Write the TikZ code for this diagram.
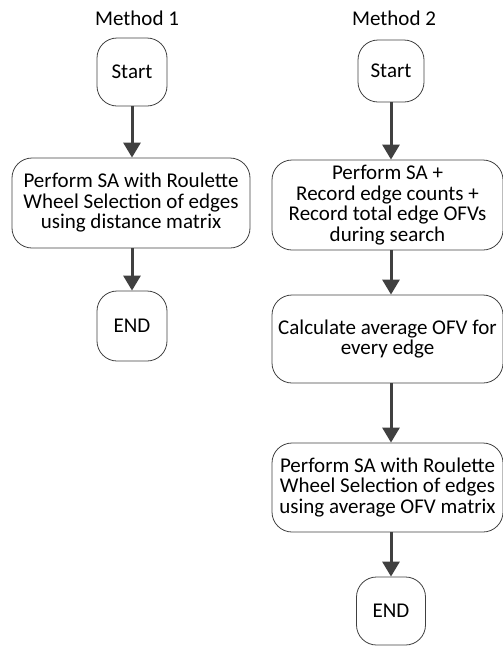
\documentclass[tikz,border=0pt]{standalone}
\usepackage{fontspec}
\setmainfont{Carlito}
\usetikzlibrary{arrows.meta}

\tikzset{
  flowbox/.style={draw=black!75, line width=0.8pt, rounded corners=20pt,
    align=center, inner sep=0pt, font=\fontsize{21}{20.5}\selectfont},
  flowarrow/.style={draw=black!75, line width=3pt,
    -{Triangle[length=15pt,width=17pt]}},
  methodlabel/.style={font=\fontsize{21}{22}\selectfont, inner sep=0pt}
}

\begin{document}
\begin{tikzpicture}[x=1pt,y=-1pt]
      \useasboundingbox (0,0) rectangle (503,646);
      % Method 1
      \node[methodlabel] (m1) at (137,18) {Method 1};
      \node[flowbox, minimum width=70pt, minimum height=68pt] (s1) at (132,72) {Start};
      \node[flowbox, minimum width=238pt, minimum height=90pt] (p1) at (131,203)
        {Perform SA with Roulette\\Wheel Selection of edges\\using distance matrix};
      \node[flowbox, minimum width=70pt, minimum height=70pt] (e1) at (132,326) {END};
      \draw[flowarrow] (s1.south) -- (s1.south |- p1.north);
      \draw[flowarrow] (s1.south |- p1.south) -- (e1.north);
      % Method 2
      \node[methodlabel] (m2) at (394,18) {Method 2};
      \node[flowbox, minimum width=66pt, minimum height=62pt] (s2) at (391,71) {Start};
      \node[flowbox, minimum width=231pt, minimum height=90pt] (p2) at (387.5,205)
        {Perform SA +\\Record edge counts +\\Record total edge OFVs\\during search};
      \node[flowbox, minimum width=231pt, minimum height=88pt] (c2) at (387.5,339)
        {Calculate average OFV for\\every edge};
      \node[flowbox, minimum width=231pt, minimum height=89pt] (r2) at (387.5,487.5)
        {Perform SA with Roulette\\Wheel Selection of edges\\using average OFV matrix};
      \node[flowbox, minimum width=69pt, minimum height=68pt] (e2) at (391,611) {END};
      \draw[flowarrow] (s2.south) -- (s2.south |- p2.north);
      \draw[flowarrow] (s2.south |- p2.south) -- (s2.south |- c2.north);
      \draw[flowarrow] (s2.south |- c2.south) -- (s2.south |- r2.north);
      \draw[flowarrow] (s2.south |- r2.south) -- (e2.north);
    \end{tikzpicture}
\end{document}
